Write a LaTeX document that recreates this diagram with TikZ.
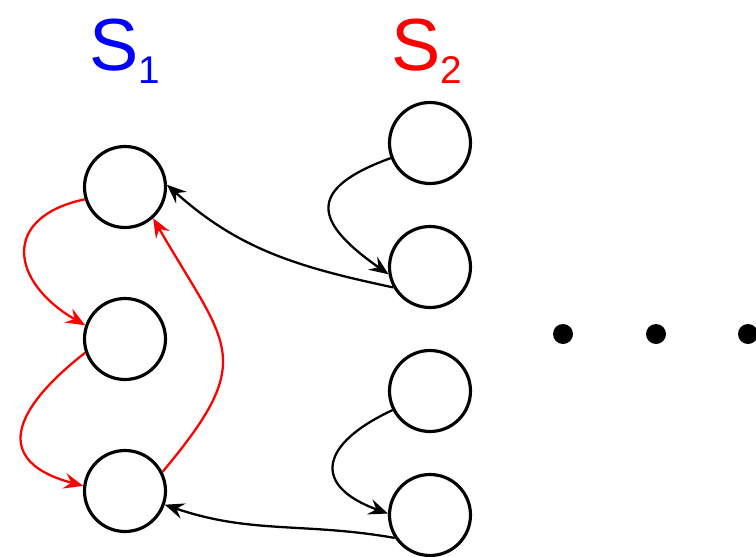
\documentclass[tikz,border=0pt]{standalone}
\usepackage{fontspec}
\setmainfont{Liberation Sans}
\usetikzlibrary{arrows.meta}
\begin{document}
\begin{tikzpicture}[x=1cm,y=1cm,>={Stealth[length=11pt,width=9pt,inset=4pt]}]
\tikzset{
    state/.style={draw,circle,line width=1.8pt,minimum size=1.62cm,inner sep=0pt},
    setname/.style={anchor=base west,inner sep=0pt,font=\fontsize{42}{42}\selectfont},
    hop/.style={->,line width=1.3pt},
    dot/.style={circle,fill,inner sep=0pt,minimum size=0.4cm}
}
\useasboundingbox (0,0) rectangle (15.12,-11.14);
% set names
\node[setname,text=blue] (lbl1) at (1.78,-1.4) {S\raisebox{-7.5pt}{\fontsize{22}{22}\selectfont 1}};
\node[setname,text=red] (lbl2) at (7.82,-1.4) {S\raisebox{-7.5pt}{\fontsize{22}{22}\selectfont 2}};

% first set
\node[state] (s1a) at (2.5,-3.74) {};
\node[state] (s1b) at (2.5,-6.78) {};
\node[state] (s1c) at (2.5,-9.82) {};

% second set
\node[state] (s2a) at (8.6,-2.86) {};
\node[state] (s2b) at (8.6,-5.34) {};
\node[state] (s2c) at (8.6,-7.82) {};
\node[state] (s2d) at (8.6,-10.3) {};

% more sets
\node[dot] (d1) at (11.26,-6.68) {};
\node[dot] (d2) at (13.12,-6.68) {};
\node[dot] (d3) at (14.96,-6.68) {};

% cycle inside S1
\draw[hop,red] (s1a.197) to[out=192,in=150,looseness=1.75] (s1b.161);
\draw[hop,red] (s1b.199) to[out=218,in=165,looseness=1.8] (s1c.173);
\draw[hop,red] (s1c.27) to[out=50,in=-60,looseness=1.5] (s1a.-48);

% steps inside S2
\draw[hop] (s2a.201) to[out=200,in=145,looseness=2] (s2b.190);
\draw[hop] (s2c.207) to[out=205,in=160,looseness=2] (s2d.178);

% links back to S1
\draw[hop] (s2b.209) to[out=168,in=-42] (s1a.3);
\draw[hop] (s2d.213) to[out=170,in=-19] (s1c.-19);
\end{tikzpicture}
\end{document}
